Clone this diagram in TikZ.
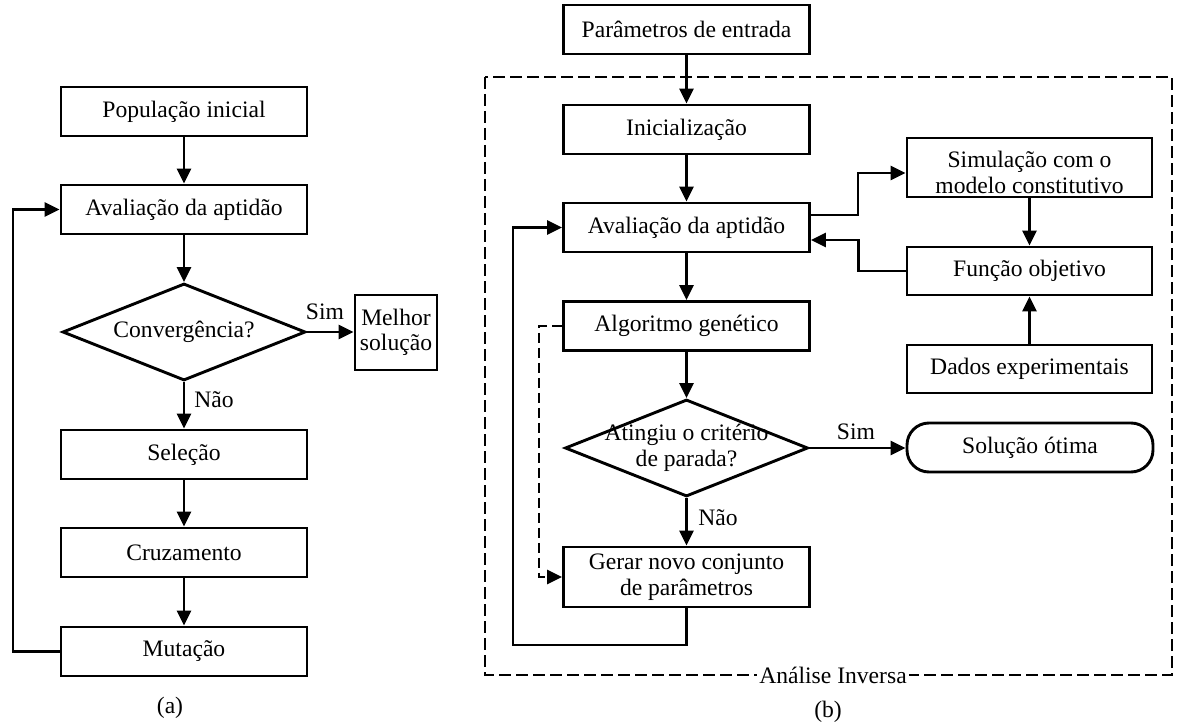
\documentclass[tikz,border=0pt]{standalone}
\usepackage{fontspec}
\setmainfont{Liberation Serif}
\usetikzlibrary{shapes.geometric,arrows.meta}
\begin{document}
\begin{tikzpicture}[x=1pt,y=-1pt, font=\fontsize{23.6}{25.5}\selectfont,
  box/.style={draw, line width=2.9pt, minimum width=246pt, minimum height=49pt, inner sep=0pt, align=center},
  arr/.style={line width=2.9pt, -{Triangle[length=15pt,width=14pt]}},
  ln/.style={line width=2.9pt},
  dia/.style={draw, diamond, line width=2.9pt, minimum width=243pt, minimum height=97pt, inner sep=0pt, aspect=2.5},
  lbl/.style={inner sep=0pt, align=center}]
\useasboundingbox (0,0) rectangle (1183,722);
% ---------- (a) ----------
\node[box] (pop) at (184,111.5) {População inicial};
\node[box] (av1) at (184,209.5) {Avaliação da aptidão};
\node[dia] (cv) at (184,332) {Convergência?};
\node[box, minimum width=82pt, minimum height=75pt] (mel) at (396,332.5) {Melhor\\solução};
\node[box] (sel) at (184,454.5) {Seleção};
\node[box] (cru) at (184,552.5) {Cruzamento};
\node[box] (mut) at (184,651.5) {Mutação};
\coordinate (lc) at (13,651.5);
\node[lbl] (sim1) at (325,312) {Sim};
\node[lbl] (nao1) at (214,400) {Não};
\node[lbl] (capa) at (170,708) {(a)};
\draw[arr] (pop) -- (av1);
\draw[arr] (av1) -- (cv);
\draw[arr] (cv.east) -- (cv.east -| mel.west);
\draw[arr] (cv) -- (sel);
\draw[arr] (sel) -- (cru);
\draw[arr] (cru) -- (mut);
\draw[arr] (mut.west) -- (lc) |- (av1.west);
% ---------- (b) ----------
\draw[ln, dash pattern=on 12pt off 5pt] (485,77) rectangle (1172,675);
\node[lbl, fill=white, inner xsep=2pt] (frl) at (833,675) {Análise Inversa};
\node[box] (par) at (686.5,29.5) {Parâmetros de entrada};
\node[box] (ini) at (686.5,129.5) {Inicialização};
\node[box] (av2) at (686.5,227.5) {Avaliação da aptidão};
\node[box] (alg) at (686.5,326) {Algoritmo genético};
\node[dia] (ati) at (686.5,448) {};
\node[lbl] (atit) at (686.5,448) {Atingiu o critério\\de parada?};
\node[box, minimum height=60pt] (ger) at (686.5,577) {Gerar novo conjunto\\de parâmetros};
\node[box, minimum width=245pt, minimum height=59pt] (simb) at (1029.5,167.5) {};
\node[lbl] (simt) at (1029.5,172.5) {Simulação com o\\modelo constitutivo};
\node[box, minimum width=245pt, minimum height=48pt] (fun) at (1029.5,271) {Função objetivo};
\node[box, minimum width=245pt, minimum height=48pt] (dad) at (1029.5,369) {Dados experimentais};
\node[box, rounded corners=22pt, minimum width=246pt] (sol) at (1030,447.5) {Solução ótima};
\node[lbl] (sim2) at (856,432) {Sim};
\node[lbl] (nao2) at (718,518) {Não};
\node[lbl] (capb) at (828,712) {(b)};
\coordinate (fb) at (513,645);
\coordinate (dl) at (539,326);
\draw[arr] (par) -- (ini);
\draw[arr] (ini) -- (av2);
\draw[arr] (av2) -- (alg);
\draw[arr] (alg) -- (ati);
\draw[arr] (ati) -- (ger);
\draw[arr] (ati.east) -- (ati.east -| sol.west);
\draw[arr] (ger.south) |- (fb) |- (av2.west);
\draw[arr] ([yshift=12.5pt]av2.east) -- ++(47,0) |- ([yshift=-5.5pt]simb.west);
\draw[arr] (fun.west) -- ++(-47,0) |- ([yshift=-12.5pt]av2.east);
\draw[arr] (simb) -- (fun);
\draw[arr] (dad) -- (fun);
\draw[arr, dash pattern=on 10pt off 5pt] (alg.west) -- (dl) |- (ger.west);
\end{tikzpicture}
\end{document}
